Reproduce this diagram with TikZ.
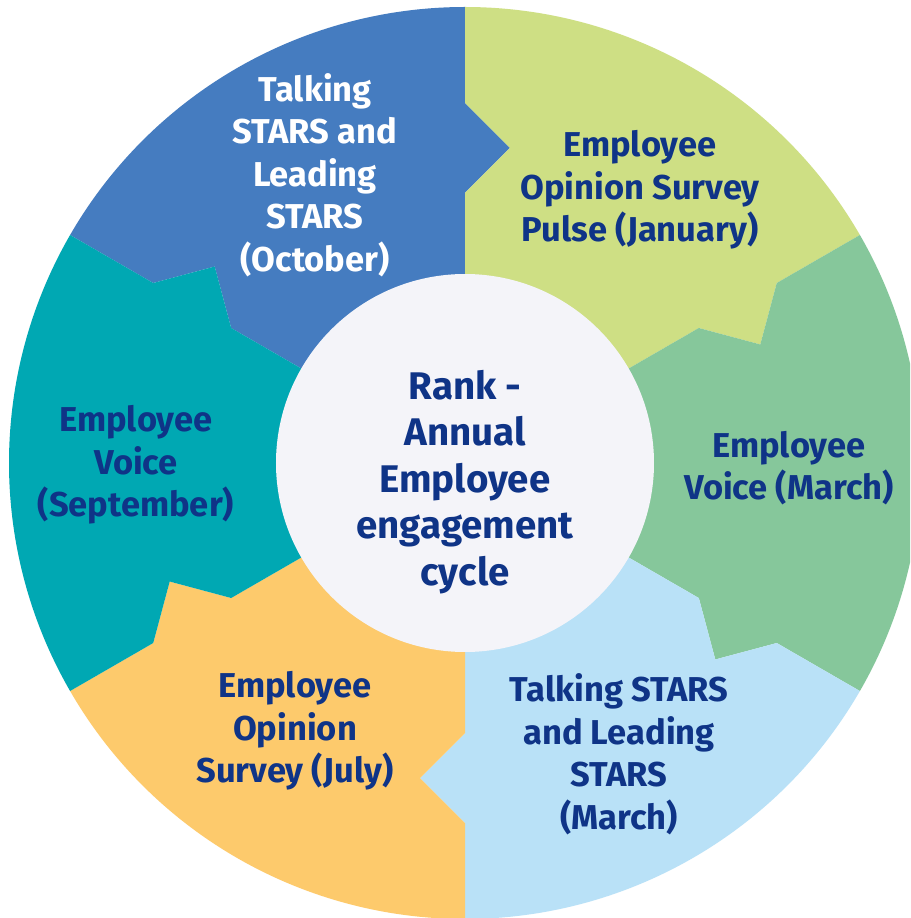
\documentclass[tikz,border=0pt]{standalone}
\usepackage{fontspec}
\setmainfont{Fira Sans}
\usepackage{tikz}
\usetikzlibrary{calc}
\definecolor{segblue}{HTML}{457CC0}
\definecolor{seglime}{HTML}{CEDF84}
\definecolor{seggreen}{HTML}{86C79B}
\definecolor{segsky}{HTML}{B9E1F7}
\definecolor{segorange}{HTML}{FDCA6C}
\definecolor{segteal}{HTML}{00A8B3}
\definecolor{hubfill}{HTML}{F4F4F9}
\definecolor{ranknavy}{HTML}{0F3487}
\tikzstyle{segtext}=[align=center, inner sep=0pt, text=ranknavy, font=\fontsize{34.5}{42.5}\selectfont\bfseries]
\tikzstyle{hubtext}=[segtext, font=\fontsize{38.5}{46.5}\selectfont\bfseries]
\newcommand{\segpath}[1]{(0,0) -- (#1:270pt) -- ($(#1:315pt)+(#1-90:45pt)$) -- (#1:360pt) -- (#1:456pt)
  arc[start angle=#1, end angle=#1-60, radius=456pt] -- (#1-60:360pt) -- ($(#1-60:315pt)+(#1-150:45pt)$) -- (#1-60:270pt) -- cycle}

\begin{document}
\begin{tikzpicture}[x=1pt, y=1pt]
\fill[white] (-465,-455) rectangle (445,463);
\clip (-465,-455) rectangle (445,463);
\foreach \a/\col in {150/segblue, 90/seglime, 30/seggreen, -30/segsky, -90/segorange, -150/segteal}
  \fill[\col] \segpath{\a};
\fill[hubfill] (0,0) circle[radius=189pt];
\node[segtext, text=white] (talkoct) at (-150,288) {Talking\\STARS and\\Leading\\STARS\\(October)};
\node[segtext] (pulsejan) at (175,273) {Employee\\Opinion Survey\\Pulse (January)};
\node[segtext] (voicemar) at (324,-5) {Employee\\Voice (March)};
\node[segtext] (talkmar) at (154,-291) {Talking STARS\\and Leading\\STARS\\(March)};
\node[segtext] (surveyjul) at (-170,-268) {Employee\\Opinion\\Survey (July)};
\node[segtext] (voicesep) at (-329,-2) {Employee\\Voice\\(September)};
\node[hubtext] (cyclehub) at (0,-19) {Rank -\\Annual\\Employee\\engagement\\cycle};
\end{tikzpicture}
\end{document}
